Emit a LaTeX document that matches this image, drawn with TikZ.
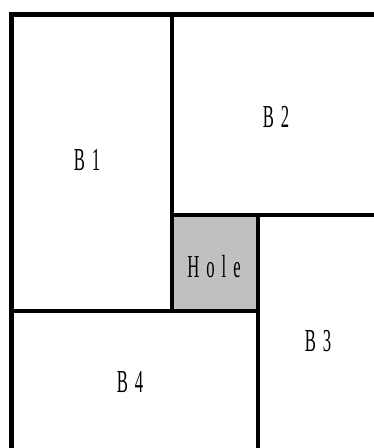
\documentclass[tikz,border=0pt]{standalone}
\usepackage{fontspec}
\newfontfamily\blockfont[FakeStretch=0.52,LetterSpace=22]{Liberation Serif}
\definecolor{holegray}{HTML}{C0C0C0}
\tikzset{
  wall/.style={line width=4pt,line cap=rect},
  outerwall/.style={line width=4.6pt,line cap=rect},
  blocklabel/.style={inner sep=0pt,font=\blockfont\fontsize{32}{32}\selectfont}
}
\begin{document}
\begin{tikzpicture}[x=1pt,y=-1pt]
		\useasboundingbox (0,0) rectangle (374,448);
		\clip (0,0) rectangle (374,448);
		% corners of the blocks
		\coordinate (tl) at (11.5,14.5);
		\coordinate (hnw) at (172,214.5);
		\coordinate (hse) at (258,310.5);
		\fill[holegray] (hnw) rectangle (hse);
		\draw[outerwall] (11.5,470) -- (tl) -- (400,14.5);
		\draw[wall] (172,14.5) -- (172,310.5);
		\draw[wall] (hnw) -- (400,214.5);
		\draw[wall] (258,214.5) -- (258,470);
		\draw[wall] (11.5,310.5) -- (hse);
		\node[blocklabel] (b1) at (87,160) {B1};
		\node[blocklabel] (b2) at (276,117) {B2};
		\node[blocklabel] (hole) at (214,267) {Hole};
		\node[blocklabel] (b3) at (318,341) {B3};
		\node[blocklabel] (b4) at (130,382) {B4};
\end{tikzpicture}
\end{document}
